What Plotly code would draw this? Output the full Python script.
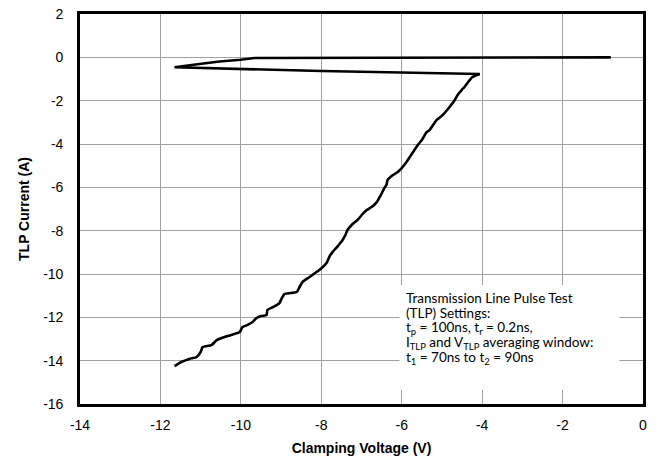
import plotly.graph_objects as go

# Clamping voltage (V) and TLP current (A)
voltage = [-0.80, -9.21, -9.66, -10.01, -10.53, -11.03, -11.40, -11.65,
           -7.99, -4.06,
           -4.24, -4.31, -4.44, -4.51, -4.61, -4.68, -4.81, -4.98, -5.13, -5.31,
           -5.38, -5.50, -5.60, -5.70, -5.80, -5.90, -6.00, -6.10, -6.25, -6.35,
           -6.38, -6.43, -6.52, -6.62, -6.75, -6.87, -6.97, -7.10, -7.22, -7.35,
           -7.40, -7.47, -7.59, -7.72, -7.79, -7.87, -7.99, -8.12, -8.29, -8.47,
           -8.54, -8.61, -8.76, -8.91, -8.99, -9.04, -9.19, -9.34, -9.36, -9.49,
           -9.61, -9.71, -9.83, -9.96, -10.03, -10.33, -10.60, -10.73, -10.95, -11.00,
           -11.10, -11.28, -11.48, -11.65]
current = [0.0, 0.0, -0.03, -0.11, -0.19, -0.31, -0.40, -0.46,
           -0.63, -0.77,
           -0.91, -1.05, -1.37, -1.51, -1.74, -1.97, -2.29, -2.66, -2.89, -3.36,
           -3.45, -3.82, -4.05, -4.32, -4.60, -4.88, -5.11, -5.29, -5.48, -5.66,
           -5.89, -6.03, -6.36, -6.68, -6.91, -7.05, -7.23, -7.51, -7.69, -7.97,
           -8.20, -8.43, -8.71, -8.99, -9.17, -9.49, -9.72, -9.91, -10.14, -10.37,
           -10.60, -10.83, -10.88, -10.92, -11.15, -11.34, -11.52, -11.66, -11.89, -11.94,
           -12.03, -12.22, -12.35, -12.45, -12.68, -12.86, -13.05, -13.28, -13.37, -13.60,
           -13.83, -13.92, -14.06, -14.25]
loop_end = 10  # first points form the upper loop, the rest the descending branch

x_ticks = [-14, -12, -10, -8, -6, -4, -2, 0]
x_tick_labels = ["-14", "-12", "-10", "-8", "-6", "-4", "-2", "0"]
y_ticks = [2, 0, -2, -4, -6, -8, -10, -12, -14, -16]
y_tick_labels = ["2", "0", "-2", "-4", "-6", "-8", "-10", "-12", "-14", "-16"]

note_lines = [
    "Transmission Line Pulse Test",
    "(TLP) Settings:",
    "t<sub>p</sub> = 100ns, t<sub>r</sub> = 0.2ns,",
    "I<sub>TLP</sub> and V<sub>TLP</sub> averaging window:",
    "t<sub>1</sub> = 70ns to t<sub>2</sub> = 90ns",
]

fig = go.Figure()
fig.add_trace(go.Scatter(
    x=voltage[:loop_end], y=current[:loop_end], mode="lines",
    line=dict(color="black", width=2.6),
    showlegend=False, hoverinfo="skip",
))
fig.add_trace(go.Scatter(
    x=voltage[loop_end - 1:], y=current[loop_end - 1:], mode="lines",
    line=dict(color="black", width=2.6, shape="spline", smoothing=0.6),
    showlegend=False, hoverinfo="skip",
))

axis_common = dict(
    showline=True, mirror=True, linecolor="black", linewidth=2.6,
    showgrid=True, gridcolor="#a0a0a0", gridwidth=1.3,
    zeroline=False, ticks="", ticklabeloverflow="allow",
    tickfont=dict(family="Liberation Sans, Arial", size=14, color="black"),
    title_font=dict(family="Liberation Sans, Arial", size=14, color="black"),
)

fig.update_xaxes(
    range=[-14, 0], tickvals=x_ticks, ticktext=x_tick_labels,
    title_text="<b>Clamping Voltage (V)</b>", title_standoff=12,
    ticklabelstandoff=6, automargin=False, **axis_common,
)
fig.update_yaxes(
    range=[-16, 2], tickvals=y_ticks, ticktext=y_tick_labels,
    title_text="<b>TLP Current (A)</b>", title_standoff=11,
    ticklabelstandoff=11, automargin=False, **axis_common,
)

# white panel behind the settings note
fig.add_shape(
    type="rect", xref="paper", yref="paper",
    x0=0.5675, x1=0.958, y0=0.036, y1=0.305,
    fillcolor="white", line=dict(width=0), layer="above",
)

note_y = [0.272, 0.233, 0.195, 0.156, 0.118]
for line_text, yy in zip(note_lines, note_y):
    fig.add_annotation(
        xref="paper", yref="paper", x=0.576, y=yy,
        xanchor="left", yanchor="middle",
        text=line_text, showarrow=False, align="left",
        font=dict(family="Lato", size=13.5, color="black"),
    )

fig.update_layout(
    width=663, height=471,
    margin=dict(l=80, r=20, t=14, b=67),
    paper_bgcolor="white", plot_bgcolor="white",
)

fig.write_html(
    "out.html",
    config={"displayModeBar": False},
    post_script="document.body.style.margin='0px';",
)
